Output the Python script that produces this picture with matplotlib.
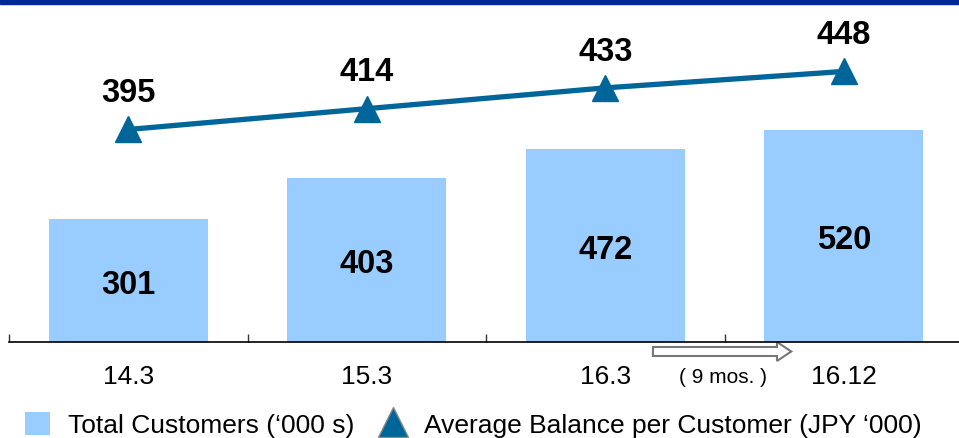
import numpy as np
import matplotlib.pyplot as plt
from matplotlib.patches import Patch, FancyArrow, Rectangle
from matplotlib.lines import Line2D

plt.rcParams['font.family'] = ['Liberation Sans', 'DejaVu Sans']

periods = ['14.3', '15.3', '16.3', '16.12']
customers = [301, 403, 472, 520]
avg_balance = [395, 414, 433, 448]

bar_color = '#99ccff'
line_color = '#006699'

fig = plt.figure(figsize=(9.59, 4.39), dpi=100)
# blue band on top
fig.patches.append(Rectangle((0, 1 - 5 / 439), 1, 5 / 439, transform=fig.transFigure,
                             color='#002896', zorder=0))

ax = fig.add_axes([9 / 959, 96 / 439, 954 / 959, 333 / 439])
x = np.arange(len(periods))

bars = ax.bar(x, customers, width=0.666, color=bar_color, zorder=2)
for xi, v in zip(x, customers):
    ax.text(xi, v / 2, str(v), ha='center', va='center_baseline', fontsize=23.5,
            fontweight='bold')

ax.set_xlim(-0.5, 3.5)
ax.set_ylim(0, 816)
for s in ['top', 'right', 'left']:
    ax.spines[s].set_visible(False)
ax.spines['bottom'].set_linewidth(1.2)
ax.set_yticks([])
ax.set_xticks(x)
ax.set_xticklabels(periods, fontsize=19)
ax.tick_params(axis='x', which='major', length=0, pad=16)
ax.set_xticks(np.arange(-0.5, 4, 1), minor=True)
ax.tick_params(axis='x', which='minor', direction='in', length=6, width=1, color='#333333')

# line on twin axis
ax2 = ax.twinx()
ax2.plot(x, avg_balance, color=line_color, linewidth=3.8, marker='^', markersize=19,
         markeredgecolor=line_color, zorder=3)
for xi, v in zip(x, avg_balance):
    ax2.annotate(str(v), (xi, v), xytext=(0, 29), textcoords='offset points',
                 ha='center', va='center_baseline', fontsize=23.5, fontweight='bold')
ax2.set_ylim(201, 505)
ax2.set_yticks([])
for s in ['top', 'right', 'left', 'bottom']:
    ax2.spines[s].set_visible(False)

# 9 months arrow
tr = ax.get_xaxis_transform()
ax.add_patch(FancyArrow(2.2, -0.0285, 0.58, 0, width=0.027, head_width=0.057,
                        head_length=0.06, length_includes_head=True, transform=tr,
                        facecolor='white', edgecolor='#777777', linewidth=1.5,
                        clip_on=False))
ax.text(2.495, -0.105, '( 9 mos. )', transform=tr, ha='center', va='center', fontsize=15)

handles = [Patch(facecolor=bar_color, edgecolor='none'),
           Line2D([], [], linestyle='none', marker='^', markersize=22,
                  markerfacecolor=line_color, markeredgecolor='#888888', markeredgewidth=1)]
labels = ['Total Customers (\u2018000 s)', 'Average Balance per Customer (JPY \u2018000)']
fig.legend(handles, labels, loc='center left', bbox_to_anchor=(25 / 959, 13.5 / 439),
           ncol=2, frameon=False, fontsize=19, borderpad=0, borderaxespad=0,
           handlelength=0.95, handleheight=0.95, handletextpad=0.68, columnspacing=1.0)

fig.savefig('out.png', dpi=100)
